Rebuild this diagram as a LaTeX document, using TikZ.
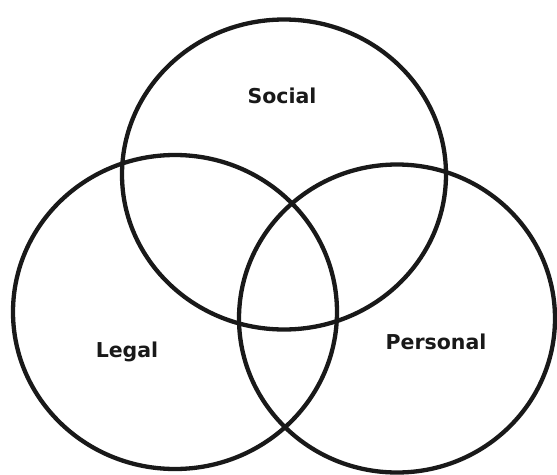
\documentclass[tikz,border=0pt]{standalone}
\usepackage{fontspec}
\setmainfont{DejaVu Sans}
\usetikzlibrary{positioning}
\tikzset{
    ring/.style={black!90, line width=4.3pt},
    lbl/.style={font=\bfseries\fontsize{20.5}{24}\selectfont, text=black!90, inner sep=0pt}
}
\begin{document}
\begin{tikzpicture}[x=1pt, y=-1pt]
    \useasboundingbox (0,0) rectangle (557,474);

    % the three sets
    \coordinate (SC) at (284,174.5);
    \coordinate (LC) at (175,312);
    \coordinate (PC) at (397,318.5);

    \draw[ring] (SC) ellipse [x radius=162, y radius=155];
    \draw[ring] (LC) ellipse [x radius=162, y radius=157];
    \draw[ring] (PC) ellipse [x radius=158, y radius=154];

    % labels
    \node[lbl] (social)   at (282,96)  {Social};
    \node[lbl] (legal)    at (127,352) {Legal};
    \node[lbl] (personal) at (436,342) {Personal};
\end{tikzpicture}
\end{document}
